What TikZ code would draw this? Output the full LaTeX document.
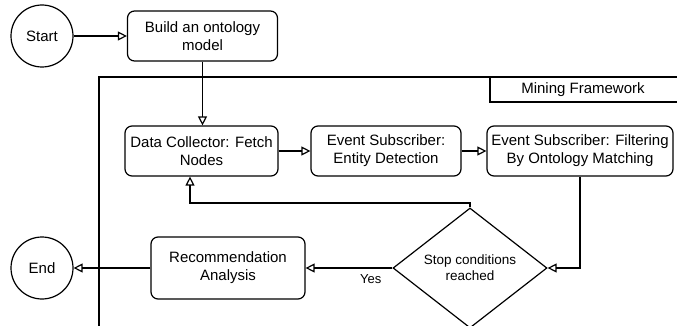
\documentclass[tikz,border=0pt]{standalone}
\usepackage{fontspec}
\setmainfont{Liberation Sans}
\usetikzlibrary{arrows.meta, shapes.geometric}

\begin{document}
\begin{tikzpicture}[x=1pt, y=1pt, line width=1.2pt]
        \tikzstyle{every node}+=[inner sep=0pt, font=\fontsize{15}{18}\selectfont]
        \tikzstyle{state}=[draw, circle, minimum size=62pt]
        \tikzstyle{task}=[draw, rounded corners=7pt, align=center, minimum height=50pt]
        \tikzstyle{test}=[draw, diamond, align=center, minimum width=154pt, minimum height=120pt, font=\fontsize{13.5}{16}\selectfont]
        \tikzstyle{flow}=[-{Triangle[open, length=9pt, width=9pt]}]
        \clip (0,0) rectangle (677,-326);

        % mining framework frame
        \draw (99,-340) -- (99,-77) -- (690,-77);
        \draw (490,-77) -- (490,-102) -- (690,-102);
        \node (fwlabel) at (583,-89.5) {Mining Framework};

        \node [state] (start) at (42,-36) {Start};
        \node [task, minimum width=150pt] (build) at (202.5,-36) {Build an ontology\\model};

        \node [task, minimum width=153pt] (fetch) at (201.5,-151) {Data Collector: Fetch\\Nodes};
        \node [task, minimum width=150pt] (detect) at (386,-151) {Event Subscriber:\\Entity Detection};
        \node [task, minimum width=186pt] (filter) at (580,-151) {Event Subscriber: Filtering\\By Ontology Matching};

        \node [test] (stop) at (470,-268) {Stop conditions\\reached};
        \node [task, minimum width=154pt, minimum height=62pt] (recommend) at (228,-268) {Recommendation\\Analysis};
        \node [state] (end) at (42,-268) {End};

        \coordinate (loop) at (190,-203);

        \draw [flow] (start) -- (build);
        \draw [flow] (build.south) -- (build.south |- fetch.north);
        \draw [flow] (fetch) -- (detect);
        \draw [flow] (detect) -- (filter);
        \draw [flow] (filter.south) |- (stop.east);
        \draw [flow] (stop.north) |- (loop) -- (loop |- fetch.south);
        \draw [flow] (stop.west) -- node [pos=0.25, below=6pt, font=\fontsize{13}{15}\selectfont] {Yes} (recommend.east);
        \draw [flow] (recommend) -- (end);
\end{tikzpicture}
\end{document}
